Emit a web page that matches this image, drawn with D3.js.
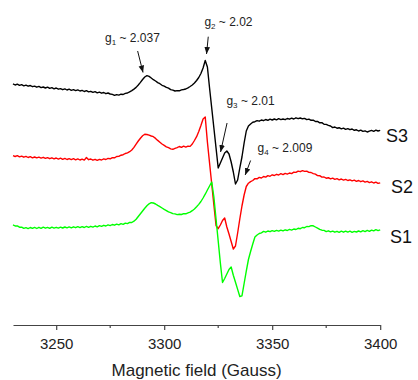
<!DOCTYPE html>
<html>
<head>
<meta charset="utf-8">
<script src="https://cdn.jsdelivr.net/npm/d3@7"></script>
<style>
  html, body { margin: 0; padding: 0; background: #fff; }
  svg { display: block; font-family: "Liberation Sans", Arial, sans-serif; }
</style>
</head>
<body>
<svg id="chart" width="418" height="380"></svg>
<script>
// Magnetic field (Gauss), sampled every 1 G
const fields = [3230,3231,3232,3233,3234,3235,3236,3237,3238,3239,3240,3241,3242,3243,3244,3245,3246,3247,3248,3249,
3250,3251,3252,3253,3254,3255,3256,3257,3258,3259,3260,3261,3262,3263,3264,3265,3266,3267,3268,3269,
3270,3271,3272,3273,3274,3275,3276,3277,3278,3279,3280,3281,3282,3283,3284,3285,3286,3287,3288,3289,
3290,3291,3292,3293,3294,3295,3296,3297,3298,3299,3300,3301,3302,3303,3304,3305,3306,3307,3308,3309,
3310,3311,3312,3313,3314,3315,3316,3317,3318,3319,3320,3321,3322,3323,3324,3325,3326,3327,3328,3329,
3330,3331,3332,3333,3334,3335,3336,3337,3338,3339,3340,3341,3342,3343,3344,3345,3346,3347,3348,3349,
3350,3351,3352,3353,3354,3355,3356,3357,3358,3359,3360,3361,3362,3363,3364,3365,3366,3367,3368,3369,
3370,3371,3372,3373,3374,3375,3376,3377,3378,3379,3380,3381,3382,3383,3384,3385,3386,3387,3388,3389,
3390,3391,3392,3393,3394,3395,3396,3397,3398,3399,3400];

// S3 (black), stacked intensity (a.u.)
const s3 = [242.2,241.0,241.8,240.6,241.3,240.2,240.9,239.8,240.5,239.3,239.9,238.8,239.6,238.4,239.0,238.0,238.9,237.6,238.3,237.2,
238.0,236.8,237.4,236.3,237.1,236.0,236.8,235.7,236.4,235.4,236.1,235.0,235.6,234.5,235.3,234.1,234.7,233.6,234.4,233.2,
233.9,232.8,233.5,232.3,233.0,232.0,231.6,230.6,231.4,230.9,231.8,231.5,232.6,233.0,234.2,235.4,236.9,238.6,241.0,243.6,
246.5,249.0,250.3,249.6,248.0,246.3,245.0,243.4,242.3,240.7,239.9,238.6,237.9,236.4,235.9,235.0,235.4,235.2,236.1,236.5,
237.0,238.2,239.5,241.0,243.0,245.5,248.5,252.5,258.0,265.5,259.0,238.0,218.0,198.0,178.0,158.0,163.0,168.0,173.0,175.0,
172.0,164.0,154.0,142.0,146.0,158.0,169.0,183.0,195.0,200.0,202.0,203.8,204.3,205.4,204.8,206.0,205.3,206.5,205.6,206.8,
206.0,207.0,206.1,207.3,206.4,207.0,206.3,207.5,206.8,207.9,207.0,208.2,207.3,208.0,207.2,207.6,206.4,206.9,205.7,205.9,
204.5,204.6,203.2,203.4,201.8,201.6,200.6,200.0,198.4,199.0,197.8,198.3,197.2,197.9,196.7,197.4,196.3,197.0,195.7,196.2,
195.0,195.8,194.6,195.1,194.0,194.8,195.6,194.7,195.9,195.0,195.6];

// S2 (red)
const s2 = [170.3,169.5,170.4,169.2,169.9,168.8,169.6,168.5,169.3,168.2,169.0,168.1,168.9,167.9,168.7,167.6,168.4,167.3,168.2,167.1,
168.0,166.9,167.8,166.7,167.6,166.5,167.4,166.4,167.3,166.2,167.1,166.0,166.9,165.9,168.5,166.3,167.0,165.8,166.7,165.7,
166.6,166.0,167.1,166.5,167.6,167.2,168.4,168.2,169.5,169.6,170.8,171.3,172.5,173.2,174.3,176.0,178.6,181.9,185.0,187.8,
190.2,191.7,191.5,190.8,190.0,189.3,187.6,185.6,183.8,182.0,180.6,179.2,178.3,177.1,176.7,177.6,178.4,179.5,178.6,179.8,
178.9,179.9,179.6,182.0,185.5,189.3,194.5,200.5,207.0,209.0,184.0,163.0,142.0,121.0,100.5,97.3,101.0,105.5,108.0,99.0,
92.0,84.5,77.0,80.0,93.0,107.0,120.0,131.0,139.5,142.8,144.4,145.5,147.4,147.2,148.6,148.0,149.5,148.9,150.4,149.7,
151.2,150.5,151.7,151.0,152.3,151.4,152.6,151.9,153.0,152.4,153.8,153.6,154.9,154.3,155.4,154.6,154.8,153.6,153.5,152.4,
151.8,150.4,150.3,148.9,149.0,147.8,148.3,147.1,147.8,146.6,147.3,146.2,147.0,145.9,146.6,145.5,146.2,145.1,145.8,144.7,
145.5,144.3,145.1,143.9,144.6,143.4,144.2,143.0,143.8,142.6,143.2];

// S1 (green)
const s1 = [101.2,100.0,100.1,98.8,98.9,97.6,98.3,97.4,98.5,97.6,98.6,97.5,98.7,97.7,98.8,97.8,98.6,97.6,98.9,97.9,
98.7,97.9,98.9,98.0,99.0,98.1,99.1,98.2,99.2,98.3,99.3,98.4,99.4,98.5,99.6,98.7,99.7,98.9,100.0,99.2,
100.3,99.6,100.7,100.0,101.1,100.4,101.5,100.8,101.9,101.2,102.4,101.7,102.9,102.4,103.6,103.5,104.8,106.8,109.5,112.2,
115.0,117.8,120.2,122.2,123.3,123.0,122.0,120.6,119.4,118.0,116.6,115.4,114.1,113.4,112.4,112.1,111.4,111.8,111.5,112.3,
112.2,113.2,113.9,115.3,117.0,119.2,121.6,124.5,128.0,131.8,136.0,140.0,144.0,129.0,107.0,85.0,63.0,43.5,47.5,52.0,
56.5,59.0,50.8,43.7,36.6,29.5,30.2,42.5,54.8,66.5,74.5,82.0,89.0,91.0,92.5,93.2,94.6,93.8,95.0,94.3,
95.4,94.6,95.6,94.9,95.9,95.1,96.2,95.5,96.6,95.9,97.0,96.5,97.7,97.3,98.5,98.3,99.5,99.4,100.4,100.2,
99.0,97.8,96.6,95.8,95.6,94.4,95.2,94.1,94.9,93.8,94.7,93.7,94.8,93.8,94.9,93.9,94.8,93.7,94.6,94.0,
95.0,94.1,95.3,94.4,95.6,94.7,95.9,95.1,96.3,95.4,96.2];

const seriesNames = ["S3", "S2", "S1"];
const seriesColors = ["#000000", "#ff0000", "#00ff00"];
const seriesData = [s3, s2, s1];

const majorTicks = [3250, 3300, 3350, 3400];
const minorTicks = [3275, 3325, 3375];

// annotations: g-factor labels with arrows
const annoLabels = ["g", "g", "g", "g"];
const annoSubs = ["1", "2", "3", "4"];
const annoValues = ["2.037", "2.02", "2.01", "2.009"];
const annoTextPos = [[3272.6, 284.5], [3318.6, 300], [3328.8, 221.5], [3343.2, 174]];
const annoArrowFrom = [[3287.7, 275], [3320.4, 289.3], [3329.1, 203], [3340.0, 165.5]];
const annoArrowTo = [[3290.2, 253.5], [3319.6, 272], [3326.1, 174], [3337.5, 151]];

const svg = d3.select("#chart");
const x = d3.scaleLinear().domain([3230, 3400]).range([13, 380.2]);
const y = d3.scaleLinear().domain([0, 300]).range([326, 26]);

// axis
const axisY = 325;
const axis = d3.axisBottom(x).tickValues(majorTicks).tickSize(5).tickPadding(8).tickSizeOuter(0).tickFormat(d3.format("d"));
const gAx = svg.append("g").attr("transform", `translate(0,${axisY})`).call(axis);
gAx.select(".domain").attr("stroke", "#444").attr("stroke-width", 1.2);
gAx.selectAll(".tick line").attr("stroke", "#444").attr("stroke-width", 1.2);
gAx.selectAll(".tick text").attr("font-size", 15).attr("fill", "#222")
   .attr("font-family", "'Liberation Sans', Arial, sans-serif");
gAx.selectAll(".minor").data(minorTicks).enter().append("line")
   .attr("class", "minor")
   .attr("x1", d => x(d)).attr("x2", d => x(d))
   .attr("y1", 0).attr("y2", 3)
   .attr("stroke", "#444").attr("stroke-width", 1.2);

svg.append("text")
  .attr("x", (x(3230) + x(3400)) / 2).attr("y", 376)
  .attr("text-anchor", "middle").attr("font-size", 17).attr("fill", "#222")
  .text("Magnetic field (Gauss)");

// spectra
const line = d3.line().x((d, i) => x(fields[i])).y(d => y(d));
seriesData.forEach((vals, k) => {
  svg.append("path").datum(vals)
    .attr("d", line)
    .attr("fill", "none")
    .attr("stroke", seriesColors[k])
    .attr("stroke-width", 1.4)
    .attr("stroke-linejoin", "round");
});

// series labels
const labelPos = [[3402.7, 184], [3405, 133], [3404.5, 83]];
seriesNames.forEach((n, k) => {
  svg.append("text")
    .attr("x", x(labelPos[k][0])).attr("y", y(labelPos[k][1]))
    .attr("font-size", 18).attr("fill", "#111")
    .text(n);
});

// arrowhead marker
svg.append("defs").append("marker")
  .attr("id", "arr").attr("viewBox", "0 0 10 10")
  .attr("refX", 10).attr("refY", 5)
  .attr("markerWidth", 7).attr("markerHeight", 7)
  .attr("markerUnits", "userSpaceOnUse")
  .attr("orient", "auto")
  .append("path").attr("d", "M0,1 L10,5 L0,9 Z").attr("fill", "#111");

annoLabels.forEach((g, k) => {
  const t = svg.append("text")
    .attr("x", x(annoTextPos[k][0])).attr("y", y(annoTextPos[k][1]))
    .attr("font-size", 12).attr("fill", "#222");
  t.append("tspan").text(g);
  t.append("tspan").attr("font-size", 8).attr("dy", 3).text(annoSubs[k]);
  t.append("tspan").attr("dy", -3).text(" ~ " + annoValues[k]);
  svg.append("line")
    .attr("x1", x(annoArrowFrom[k][0])).attr("y1", y(annoArrowFrom[k][1]))
    .attr("x2", x(annoArrowTo[k][0])).attr("y2", y(annoArrowTo[k][1]))
    .attr("stroke", "#111").attr("stroke-width", 1)
    .attr("marker-end", "url(#arr)");
});
</script>
</body>
</html>
